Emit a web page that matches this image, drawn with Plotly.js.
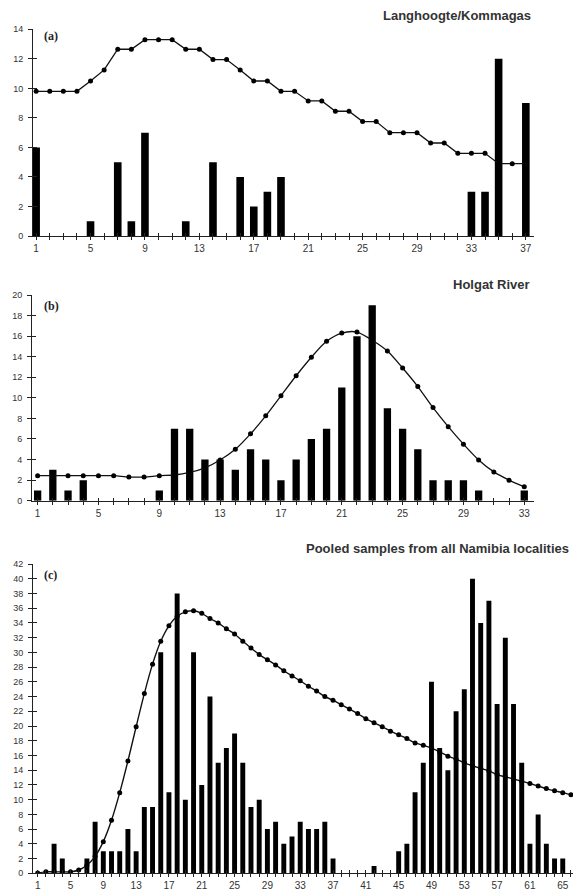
<!DOCTYPE html>
<html>
<head>
<meta charset="utf-8">
<script src="https://cdn.plot.ly/plotly-3.0.1.min.js"></script>
<style>html,body{margin:0;padding:0;background:#fff;}#chart{width:573px;height:894px;}</style>
</head>
<body>
<div id="chart"></div>
<script>
// ---- Panel (a): Langhoogte/Kommagas ----
const aCats = Array.from({length: 37}, (_, i) => i + 1);
const aBars = [6,0,0,0,1,0,5,1,7,0,0,1,0,5,0,4,2,3,4,0,0,0,0,0,0,0,0,0,0,0,0,0,3,3,12,0,9];
const aLine = [9.8,9.8,9.8,9.8,10.5,11.25,12.65,12.65,13.3,13.3,13.3,12.65,12.65,11.95,11.95,11.25,10.5,10.5,9.8,9.8,9.15,9.15,8.45,8.45,7.75,7.75,7.0,7.0,7.0,6.3,6.3,5.6,5.6,5.6,4.9,4.9,4.9];

// ---- Panel (b): Holgat River ----
const bCats = Array.from({length: 33}, (_, i) => i + 1);
const bBars = [1,3,1,2,0,0,0,0,1,7,7,4,4,3,5,4,2,4,6,7,11,16,19,9,7,5,2,2,2,1,0,0,1];
const bLine = [2.43,2.43,2.43,2.43,2.43,2.43,2.3,2.3,2.43,2.5,2.75,3.2,3.96,5.0,6.5,8.25,10.2,12.15,13.95,15.5,16.3,16.4,15.6,14.55,12.9,11.1,9.05,7.2,5.5,3.96,2.8,2.0,1.35];

// ---- Panel (c): Pooled samples ----
const cCats = Array.from({length: 65}, (_, i) => i + 1);
const cBars = [0,0,4,2,0,0,2,7,3,3,3,6,3,9,9,30,11,38,10,30,12,24,15,17,19,15,9,10,6,7,4,5,7,6,6,7,2,0,0,0,0,1,0,0,3,4,11,15,26,17,14,22,25,40,34,37,23,32,23,15,4,8,4,2,2];
const cLineCats = Array.from({length: 66}, (_, i) => i + 1);
const cLine = [0.05,0.2,0.2,0.2,0.2,0.45,1.1,2.3,4.3,7.2,10.95,15.25,19.9,24.4,28.4,31.5,33.6,34.9,35.5,35.65,35.3,34.6,34.0,33.2,32.5,31.5,30.6,29.7,29.0,28.3,27.5,26.8,26.15,25.4,24.75,24.0,23.5,22.9,22.3,21.7,21.0,20.45,19.9,19.3,18.8,18.3,17.7,17.4,17.0,16.5,15.9,15.5,15.0,14.6,14.25,13.9,13.4,13.1,12.8,12.5,12.2,11.85,11.5,11.2,10.95,10.65];

const titles = ['Langhoogte/Kommagas', 'Holgat River', 'Pooled samples from all Namibia localities'];
const panelLabels = ['(a)', '(b)', '(c)'];

const W = 573, H = 894;
const px = v => v / W;
const py = v => 1 - v / H;

const axCol = '#222';
const tickFont = {family: 'Liberation Sans, Arial, sans-serif', size: 9, color: '#333'};

function xMain(dom, rng, anchor) {
  return {domain: dom, range: rng, anchor: anchor, showline: true, linecolor: axCol, linewidth: 1,
    showgrid: false, zeroline: false, tickmode: 'linear', tick0: 1, dtick: 4,
    ticks: 'outside', ticklen: 3, tickcolor: axCol, tickwidth: 1, tickfont: Object.assign({}, tickFont, {size: 10}),
    minor: {tickmode: 'linear', tick0: 1, dtick: 1, ticks: 'outside', ticklen: 3, tickcolor: axCol, tickwidth: 1, showgrid: false},
    fixedrange: true};
}
function xOver(over, rng, anchor) {
  return {overlaying: over, range: rng, anchor: anchor, showline: false, showgrid: false, zeroline: false,
    tickmode: 'linear', tick0: 1, dtick: 1, ticks: 'inside', ticklen: 3, tickcolor: axCol, tickwidth: 1,
    showticklabels: false, fixedrange: true};
}
function yMain(dom, rng, anchor) {
  return {domain: dom, range: rng, anchor: anchor, showline: true, linecolor: axCol, linewidth: 1,
    showgrid: false, zeroline: false, tickmode: 'linear', tick0: 0, dtick: 2,
    ticks: 'outside', ticklen: 4, tickcolor: axCol, tickwidth: 1, tickfont: tickFont,
    ticklabelstandoff: 3, fixedrange: true};
}
function yOver(over, rng, anchor) {
  return {overlaying: over, range: rng, anchor: anchor, side: 'left', showline: false, showgrid: false, zeroline: false,
    tickmode: 'linear', tick0: 0, dtick: 2, ticks: 'inside', ticklen: 4, tickcolor: axCol, tickwidth: 1,
    showticklabels: false, fixedrange: true};
}

const rA = [0.77, 37.6], rB = [0.63, 33.64], rC = [0.43, 66.25];
const yrA = [0, 14], yrB = [0, 20], yrC = [0, 42];

const barStyle = {color: '#000', line: {width: 0}};
const lineStyle = (shape, w) => ({color: '#111', width: w, shape: shape, smoothing: 0.8});

const data = [
  {type: 'bar', x: aCats, y: aBars, width: 0.56, marker: barStyle, xaxis: 'x', yaxis: 'y', hoverinfo: 'skip'},
  {type: 'scatter', mode: 'lines+markers', x: aCats, y: aLine, line: lineStyle('linear', 1.3), marker: {size: 5, color: '#000'}, xaxis: 'x', yaxis: 'y', cliponaxis: false},
  {type: 'bar', x: bCats, y: bBars, width: 0.48, marker: barStyle, xaxis: 'x2', yaxis: 'y2', hoverinfo: 'skip'},
  {type: 'scatter', mode: 'lines+markers', x: bCats, y: bLine, line: lineStyle('spline', 1.3), marker: {size: 5, color: '#000'}, xaxis: 'x2', yaxis: 'y2'},
  {type: 'bar', x: cCats, y: cBars, width: 0.6, marker: barStyle, xaxis: 'x3', yaxis: 'y3', hoverinfo: 'skip'},
  {type: 'scatter', mode: 'lines+markers', x: cLineCats, y: cLine, line: lineStyle('spline', 1.4), marker: {size: 5, color: '#000'}, xaxis: 'x3', yaxis: 'y3'},
  // invisible helpers so the overlay tick axes are drawn
  {type: 'scatter', mode: 'markers', x: [1], y: [0], marker: {opacity: 0}, xaxis: 'x4', yaxis: 'y4', hoverinfo: 'skip'},
  {type: 'scatter', mode: 'markers', x: [1], y: [0], marker: {opacity: 0}, xaxis: 'x5', yaxis: 'y5', hoverinfo: 'skip'},
  {type: 'scatter', mode: 'markers', x: [1], y: [0], marker: {opacity: 0}, xaxis: 'x6', yaxis: 'y6', hoverinfo: 'skip'}
];

const titleFont = {family: 'Liberation Sans, Arial, sans-serif', size: 13, color: '#333', weight: 'bold'};
const labelFont = {family: 'Liberation Serif, Times New Roman, serif', size: 12, color: '#222', weight: 'bold'};

const layout = {
  width: W, height: H,
  margin: {l: 0, r: 0, t: 0, b: 0},
  paper_bgcolor: '#fff', plot_bgcolor: 'rgba(0,0,0,0)',
  showlegend: false,
  xaxis: xMain([px(33), px(534)], rA, 'y'),
  yaxis: yMain([1 - 236 / H, 1 - 29.3 / H], yrA, 'x'),
  xaxis2: xMain([px(32), px(534)], rB, 'y2'),
  yaxis2: yMain([1 - 500.7 / H, 1 - 295 / H], yrB, 'x2'),
  xaxis3: xMain([px(33), 1], rC, 'y3'),
  yaxis3: yMain([1 - 873.3 / H, 1 - 564 / H], yrC, 'x3'),
  xaxis4: xOver('x', rA, 'y'),
  yaxis4: yOver('y', yrA, 'x'),
  xaxis5: xOver('x2', rB, 'y2'),
  yaxis5: yOver('y2', yrB, 'x2'),
  xaxis6: xOver('x3', rC, 'y3'),
  yaxis6: yOver('y3', yrC, 'x3'),
  annotations: [
    {text: titles[0], xref: 'paper', yref: 'paper', x: px(533), y: py(15), xanchor: 'right', yanchor: 'middle', showarrow: false, font: titleFont},
    {text: titles[1], xref: 'paper', yref: 'paper', x: px(532), y: py(284), xanchor: 'right', yanchor: 'middle', showarrow: false, font: titleFont},
    {text: titles[2], xref: 'paper', yref: 'paper', x: px(571), y: py(548), xanchor: 'right', yanchor: 'middle', showarrow: false, font: titleFont},
    {text: panelLabels[0], xref: 'paper', yref: 'paper', x: px(42), y: py(36), xanchor: 'left', yanchor: 'middle', showarrow: false, font: labelFont},
    {text: panelLabels[1], xref: 'paper', yref: 'paper', x: px(42), y: py(306), xanchor: 'left', yanchor: 'middle', showarrow: false, font: labelFont},
    {text: panelLabels[2], xref: 'paper', yref: 'paper', x: px(42), y: py(575), xanchor: 'left', yanchor: 'middle', showarrow: false, font: labelFont}
  ]
};

Plotly.newPlot('chart', data, layout, {displayModeBar: false, staticPlot: true});
</script>
</body>
</html>
